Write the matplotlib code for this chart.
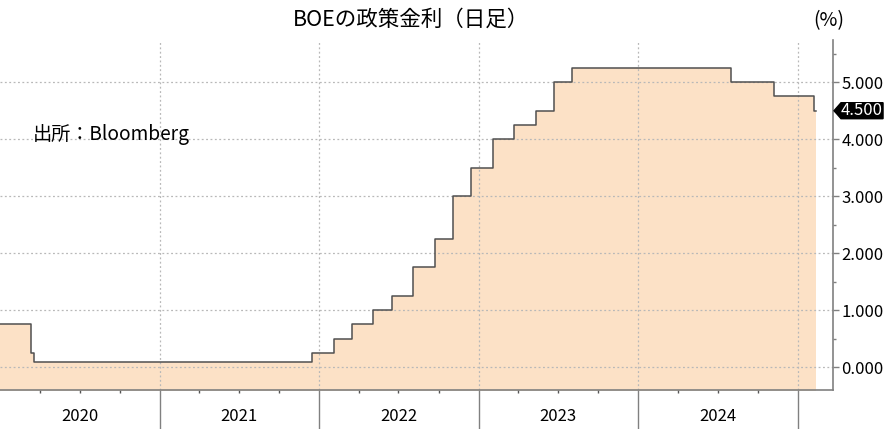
import numpy as np
import matplotlib
matplotlib.use("Agg")
import matplotlib.pyplot as plt
import matplotlib.dates as mdates
import matplotlib.transforms as mtransforms
from matplotlib.patches import Polygon
from matplotlib.ticker import MultipleLocator, FuncFormatter

plt.rcParams['font.family'] = ['Noto Sans CJK JP', 'DejaVu Sans']

# BOE policy rate: dates of change and the new rate (%)
change_dates = ["2020-01-01", "2020-03-11", "2020-03-19", "2021-12-16", "2022-02-03",
                "2022-03-17", "2022-05-05", "2022-06-16", "2022-08-04", "2022-09-22",
                "2022-11-03", "2022-12-15", "2023-02-02", "2023-03-23", "2023-05-11",
                "2023-06-22", "2023-08-03", "2024-08-01", "2024-11-07", "2025-02-06",
                "2025-02-10"]
rates = [0.75, 0.25, 0.10, 0.25, 0.50, 0.75, 1.00, 1.25, 1.75, 2.25, 3.00, 3.50,
         4.00, 4.25, 4.50, 5.00, 5.25, 5.00, 4.75, 4.50, 4.50]
years = [2020, 2021, 2022, 2023, 2024]
last_value = 4.5

dates = np.array(change_dates, dtype="datetime64[D]")
x = mdates.date2num(dates)

fig = plt.figure(figsize=(8.9, 4.29), dpi=100)
ax = fig.add_axes([0.0, 0.0909, 0.936, 0.8158])

fill_c = "#FCE1C6"
line_c = "#505050"
grid_c = "#b8b8b8"
spine_c = "#808080"

ax.fill_between(x, rates, -1, step="post", color=fill_c, lw=0, zorder=1)
ax.step(x, rates, where="post", color=line_c, lw=1.1, zorder=3)

# Y axis on the right
ax.yaxis.tick_right()
ax.yaxis.set_major_locator(MultipleLocator(1.0))
ax.yaxis.set_minor_locator(MultipleLocator(0.5))
ax.yaxis.set_major_formatter(FuncFormatter(lambda v, p: f"{v:.3f}"))
ax.tick_params(axis="y", which="major", direction="out", length=4, width=1,
               color=spine_c, labelsize=12, pad=2, labelcolor="black")
ax.tick_params(axis="y", which="minor", direction="out", length=2.5, width=1,
               color=spine_c)

# X axis: year separators and quarter ticks
year_starts = [np.datetime64(f"{y}-01-01") for y in years[1:]] + [np.datetime64(f"{years[-1]+1}-01-01")]
ax.set_xticks(mdates.date2num(np.array(year_starts)))
ax.set_xticklabels([])
quarters = []
for y in years + [years[-1] + 1]:
    for m in ("04", "07", "10"):
        if y == years[-1] + 1 and m != "04":
            continue
        quarters.append(np.datetime64(f"{y}-{m}-01"))
ax.set_xticks(mdates.date2num(np.array(quarters)), minor=True)
ax.tick_params(axis="x", which="major", direction="out", length=28, width=1, color=spine_c)
ax.tick_params(axis="x", which="minor", direction="out", length=2.5, width=1, color="#555555")

x0 = mdates.date2num(np.datetime64("2020-01-01"))
x1 = mdates.date2num(np.datetime64("2025-03-22"))
ax.set_xlim(x0, x1)
ax.set_ylim(-0.40, 5.74)

for y in years:
    mid = mdates.date2num(np.datetime64(f"{y}-07-02"))
    ax.text(mid, -0.075, str(y), transform=ax.get_xaxis_transform(),
            ha="center", va="center", fontsize=12, color="black")

# Grid
ax.grid(True, which="major", axis="both", color=grid_c, linestyle=(0, (1.5, 2)), lw=0.9, zorder=2)
ax.set_axisbelow(False)

for s in ("left", "top"):
    ax.spines[s].set_visible(False)
for s in ("right", "bottom"):
    ax.spines[s].set_color(spine_c)
    ax.spines[s].set_linewidth(1.2)
    ax.spines[s].set_zorder(4)

# Last value tag (arrow box pointing at the axis)
tag_tr = mtransforms.ScaledTranslation(1.0, last_value, ax.get_yaxis_transform())
tag = Polygon([(1, 0), (8, 8), (50, 8), (50, -8), (8, -8)], closed=True,
              facecolor="black", edgecolor="black", transform=tag_tr, clip_on=False, zorder=5)
ax.add_patch(tag)
ax.annotate(f"{last_value:.3f}", xy=(1.0, last_value), xycoords=("axes fraction", "data"),
            xytext=(29 * 0.72, 0), textcoords="offset points", ha="center", va="center",
            fontsize=12, color="white", annotation_clip=False, zorder=6)

fig.text(0.462, 0.953, "BOEの政策金利（日足）", ha="center", va="center", fontsize=15.5)
fig.text(0.931, 0.951, "(%)", ha="center", va="center", fontsize=14)
ax.text(33 / 833, (367 - 111) / 350, "出所：Bloomberg", transform=ax.transAxes,
        ha="left", va="center", fontsize=13.8)

fig.savefig("out.png", dpi=100)
